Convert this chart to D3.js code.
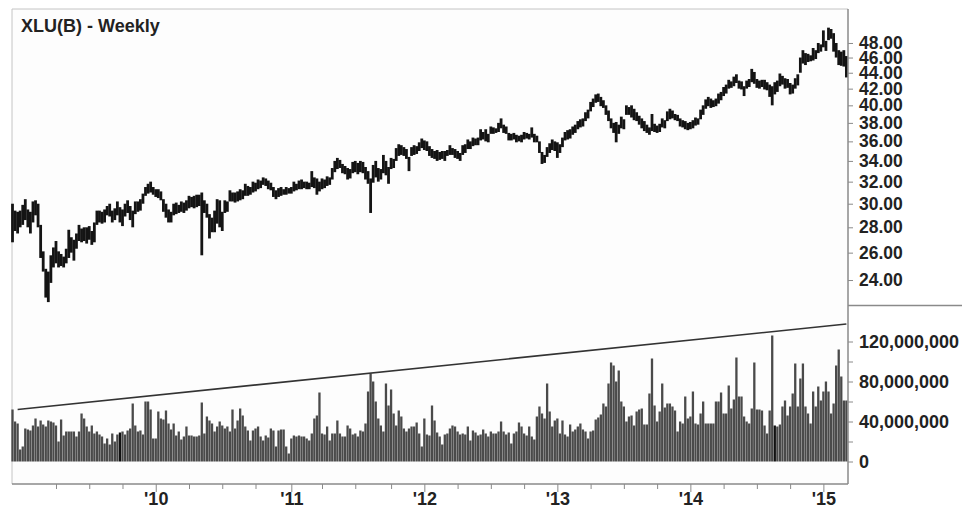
<!DOCTYPE html>
<html><head><meta charset="utf-8">
<script src="https://cdn.jsdelivr.net/npm/d3@7"></script>
<style>
body{margin:0;background:#fff}
svg text{font-family:"Liberation Sans",Arial,Helvetica,sans-serif;font-weight:bold;fill:#222}
</style>
</head><body>
<svg id="chart" width="965" height="515"></svg>
<script>
// ---------------- DATA ----------------
const title = "XLU(B) - Weekly";
const firstWeek = new Date(2008, 11, 5);          // first weekly bar (Friday)
// weekly high / low prices, one per week
const high = [
30.0,29.4,29.3,29.4,29.9,30.4,29.5,29.3,30.2,30.3,
30.0,28.2,26.1,24.8,24.6,25.8,26.4,26.9,26.1,25.9,
25.7,26.3,27.8,27.2,27.0,27.5,28.2,27.9,28.0,28.0,
28.1,27.7,28.4,29.4,29.4,29.3,29.5,29.8,30.0,29.4,
29.6,30.2,29.7,29.5,30.0,30.3,29.8,29.4,30.2,30.2,
30.4,30.9,31.5,31.8,32.0,31.5,31.3,31.3,31.1,30.4,
30.0,29.5,29.3,30.0,30.1,29.9,30.2,30.1,30.3,30.7,
30.6,30.7,30.8,30.8,31.0,30.3,30.0,29.1,28.8,29.4,
30.4,30.3,29.3,30.3,30.2,31.2,31.0,31.0,31.1,31.3,
31.2,31.8,31.6,31.5,32.0,31.9,32.2,32.1,32.4,32.3,
32.1,31.9,31.5,31.2,31.4,31.5,31.3,31.5,31.4,31.5,
32.0,31.8,32.1,32.2,32.0,32.0,31.9,33.0,32.4,32.3,
32.0,32.3,32.2,32.5,32.4,33.3,34.0,34.3,34.1,33.7,
33.5,33.3,33.2,33.9,34.0,33.8,34.0,33.9,33.4,33.0,
32.3,33.6,34.0,33.3,33.2,34.6,34.0,33.4,34.3,34.2,
35.3,35.7,35.6,35.4,35.2,34.4,35.4,35.6,35.5,35.9,
36.3,36.1,36.0,35.5,35.2,35.0,35.1,34.9,35.0,35.0,
35.1,35.6,35.3,35.2,35.0,34.8,35.6,35.7,36.2,36.0,
36.4,36.3,36.4,37.3,37.0,37.3,36.8,37.6,37.5,37.4,
38.0,38.5,37.8,37.6,36.9,36.8,36.9,36.7,36.6,36.7,
37.0,36.9,36.8,37.5,36.8,36.6,36.0,34.9,34.6,35.4,
35.8,36.2,36.0,35.9,35.7,36.4,37.0,37.2,37.3,37.6,
37.8,38.2,38.4,38.5,39.2,39.5,40.4,40.8,41.3,41.4,
41.0,40.6,40.0,39.4,38.5,38.0,38.1,37.8,38.7,38.4,
40.0,39.8,40.0,39.6,39.2,38.8,38.5,38.2,37.8,37.5,
39.0,37.9,37.7,37.9,38.5,38.3,39.3,39.6,39.4,39.0,
38.9,38.5,38.3,38.2,38.0,38.1,38.3,38.6,38.5,39.5,
40.0,40.7,41.0,40.8,40.6,40.8,41.4,41.6,42.2,42.5,
43.1,42.9,43.5,43.8,43.0,42.9,42.3,43.0,43.2,44.5,
44.1,43.2,43.0,43.1,43.1,42.8,42.5,42.3,42.8,43.0,
43.9,43.6,43.3,43.2,42.7,42.5,43.3,43.8,46.0,47.0,
46.6,46.5,46.3,47.3,47.0,48.0,47.8,49.8,48.3,50.2,
50.0,49.4,48.0,47.0,46.8,47.0,46.2
];
const low = [
26.8,27.7,27.5,28.0,28.2,28.6,28.0,27.5,28.4,29.0,
28.0,25.6,24.6,22.8,22.5,23.8,24.9,25.2,24.9,25.0,
24.9,25.2,25.6,26.0,25.4,26.3,26.9,26.8,26.9,26.7,
27.0,26.6,26.8,28.2,28.4,28.3,28.4,29.0,28.9,28.4,
28.6,29.0,28.4,28.1,28.9,29.2,28.6,28.0,29.1,29.3,
29.4,30.0,30.7,30.9,31.0,30.8,30.6,30.5,30.3,29.3,
28.8,28.4,28.4,29.0,29.1,29.2,29.3,29.2,29.4,29.6,
29.7,29.6,29.7,29.8,25.8,29.2,28.8,27.1,27.6,27.6,
28.3,28.0,27.7,29.2,29.3,30.2,30.2,30.1,30.2,30.3,
30.4,30.7,30.7,30.8,31.0,31.1,31.3,31.4,31.7,31.6,
31.3,31.2,30.6,30.4,30.6,30.7,30.8,30.8,30.9,30.9,
31.1,31.2,31.3,31.3,31.4,31.3,31.3,31.5,31.4,30.8,
31.1,31.3,31.4,31.6,31.7,32.2,32.9,33.2,33.3,32.8,
32.7,32.2,32.3,32.8,32.9,32.7,32.9,32.8,32.2,31.8,
29.2,31.9,32.4,32.0,32.2,32.8,32.6,31.8,33.2,33.3,
34.0,34.5,34.6,34.5,34.2,33.0,34.5,34.6,34.7,35.0,
35.3,35.1,35.0,34.5,34.3,34.2,34.0,34.1,34.2,34.0,
34.5,34.6,34.6,34.3,34.2,34.0,34.6,34.8,35.2,35.2,
35.5,35.6,35.6,36.1,36.2,36.0,35.9,36.8,36.8,36.9,
37.0,37.4,36.9,36.8,36.1,36.1,36.2,35.9,36.0,35.9,
36.2,36.3,36.2,36.4,35.9,35.9,34.8,33.7,33.8,34.4,
34.8,35.1,35.0,34.3,34.8,35.4,36.1,36.2,36.3,36.7,
36.9,37.3,37.5,37.6,38.2,38.5,39.3,39.8,40.3,40.4,
39.9,39.7,38.9,38.2,37.4,36.9,35.9,36.8,37.4,37.3,
38.9,38.9,38.6,38.3,38.2,37.8,37.4,37.1,36.9,36.7,
37.1,37.0,36.9,37.0,37.5,37.4,38.2,38.4,38.5,38.3,
38.2,37.6,37.5,37.3,37.2,37.3,37.4,37.7,37.8,38.4,
38.9,39.6,39.9,39.7,39.8,39.9,40.2,40.6,41.1,41.4,
42.0,42.1,42.3,42.7,42.0,41.9,41.1,42.0,42.2,42.8,
42.6,42.1,42.0,42.2,41.9,41.8,41.0,40.0,41.3,41.6,
42.3,42.5,42.0,42.1,41.3,41.4,42.0,42.4,44.0,45.2,
45.0,45.4,45.5,45.6,45.8,46.6,46.8,47.4,46.9,48.4,
48.6,46.8,46.0,45.0,44.9,44.8,43.4
];
// weekly volume, millions of shares
const volumeM = [
52,40,38,12,15,33,32,31,36,43,
35,41,37,35,41,40,39,36,20,42,
26,30,30,30,30,25,30,48,43,35,
30,36,28,30,27,25,18,23,17,28,
20,27,29,30,27,31,33,58,36,30,
31,27,60,60,52,23,23,50,43,42,
51,38,32,38,26,30,22,25,35,26,
26,25,25,26,59,28,45,41,38,30,
35,40,36,33,35,30,52,33,41,53,
46,35,31,21,31,33,35,25,21,26,
24,33,31,15,31,32,32,15,8,23,
26,25,26,25,25,23,21,28,43,46,
69,28,27,35,21,28,28,41,28,25,
25,36,33,27,28,25,31,30,38,70,
88,80,60,43,36,30,78,56,72,48,
36,51,45,33,30,33,35,35,39,28,
15,43,27,26,56,41,29,25,17,27,
28,33,36,35,30,27,28,27,35,21,
31,29,26,27,32,28,25,30,28,28,
30,40,30,27,29,18,28,30,39,35,
28,26,35,25,22,45,55,48,43,78,
50,35,41,43,28,41,27,25,37,30,
32,35,38,32,30,23,30,31,42,44,
47,58,55,78,99,96,80,91,60,55,
40,45,46,36,50,52,53,37,37,68,
103,56,40,50,78,54,58,58,55,51,
30,40,38,65,43,45,70,38,37,48,
60,38,38,38,38,60,60,69,48,48,
76,53,62,104,65,65,45,40,38,53,
99,52,52,51,36,28,51,126,36,35,
37,55,61,46,55,68,98,55,83,98,
55,48,38,70,55,75,61,70,80,70,
48,58,96,112,85,61,61
];
const darkVolumeBars = [42, 298];
const priceTicks = [24,26,28,30,32,34,36,38,40,42,44,46,48];
const volumeTicksM = [0,20,40,60,80,100,120];
const volumeLabelsM = [0,40,80,120];
const trendline = [{i: 2, v: 52}, {i: 326, v: 137.5}];   // volume trendline (M)

// ---------------- CHART ----------------
const svg = d3.select("#chart");
const L = 12, R = 848, T = 9, B = 484, SPLIT = 305.5;
const dates = high.map((_, i) => d3.timeWeek.offset(firstWeek, i));
const n = high.length;

const x = d3.scaleLinear().domain([0, 326]).range([12.5, 846.4]);
const yP = d3.scaleLog().domain([22.31, 53.17]).range([305, 8]);
const yV = d3.scaleLinear().domain([0, 120]).range([461.5, 341.5]);

// plot background & frame
svg.append("rect").attr("x", L).attr("y", T).attr("width", R - L).attr("height", B - T).attr("fill", "#fdfdfd");
svg.append("line").attr("x1", L).attr("x2", R).attr("y1", T).attr("y2", T).attr("stroke", "#c4c4c4").attr("stroke-width", 1);
svg.append("line").attr("x1", L).attr("x2", L).attr("y1", T).attr("y2", B).attr("stroke", "#c4c4c4").attr("stroke-width", 1);

// volume bars
svg.append("g").selectAll("rect").data(volumeM).join("rect")
  .attr("x", (d, i) => x(i) - 1.15)
  .attr("width", 2.3)
  .attr("y", d => yV(d))
  .attr("height", d => yV(0) - yV(d))
  .attr("fill", (d, i) => darkVolumeBars.includes(i) ? "#111" : "#4a4a4a");

// volume trendline
svg.append("line")
  .attr("x1", x(trendline[0].i)).attr("y1", yV(trendline[0].v))
  .attr("x2", x(trendline[1].i)).attr("y2", yV(trendline[1].v))
  .attr("stroke", "#333").attr("stroke-width", 1.6);

// price bars (high-low)
svg.append("g").selectAll("rect").data(high).join("rect")
  .attr("x", (d, i) => x(i) - 1.4)
  .attr("width", 2.8)
  .attr("y", d => yP(d))
  .attr("height", (d, i) => Math.max(1, yP(low[i]) - yP(d)))
  .attr("fill", "#141414");

// title
svg.append("text").attr("x", 21).attr("y", 32).attr("font-size", 18).text(title);

// right axis line + separator
svg.append("line").attr("x1", R).attr("x2", R).attr("y1", T).attr("y2", B).attr("stroke", "#8a8a8a").attr("stroke-width", 1.5);
svg.append("line").attr("x1", R).attr("x2", 962).attr("y1", SPLIT).attr("y2", SPLIT).attr("stroke", "#8a8a8a").attr("stroke-width", 1.5);

// price axis
const pAxis = svg.append("g").attr("transform", `translate(${R},0)`)
  .call(d3.axisRight(yP).tickValues(priceTicks).tickFormat(d3.format(".2f")).tickSize(5).tickPadding(6));
pAxis.select(".domain").remove();
pAxis.selectAll("line").attr("stroke", "#8a8a8a");
pAxis.selectAll("text").attr("font-size", 17.5).attr("fill", "#222").attr("font-family", null);

// volume axis
const vAxis = svg.append("g").attr("transform", `translate(${R},0)`)
  .call(d3.axisRight(yV).tickValues(volumeTicksM).tickSize(5).tickPadding(6)
    .tickFormat(d => volumeLabelsM.includes(d) ? d3.format(",")(d * 1e6) : ""));
vAxis.select(".domain").remove();
vAxis.selectAll("line").attr("stroke", "#8a8a8a");
vAxis.selectAll("text").attr("font-size", 18).attr("fill", "#222").attr("font-family", null);

// time axis (quarter ticks, year labels)
const qTicks = [];
for (let i = 1; i < n; i++) {
  const m = dates[i].getMonth();
  if (m !== dates[i - 1].getMonth() && m % 3 === 0 && dates[i] >= new Date(2009, 2, 1)) qTicks.push(i);
}
const xAxis = svg.append("g").attr("transform", `translate(0,${B})`)
  .call(d3.axisBottom(x).tickValues(qTicks).tickSize(5).tickPadding(3)
    .tickFormat(i => dates[i].getMonth() === 0 ? "'" + String(dates[i].getFullYear()).slice(2) : ""));
xAxis.select(".domain").attr("d", `M${L},0H${R}`).attr("stroke", "#8a8a8a").attr("stroke-width", 1.5);
xAxis.selectAll("line").attr("stroke", "#8a8a8a")
  .attr("y2", i => dates[i].getMonth() === 0 ? 8 : 5);
xAxis.selectAll("text").attr("font-size", 18).attr("fill", "#222").attr("font-family", null);
</script>
</body></html>
